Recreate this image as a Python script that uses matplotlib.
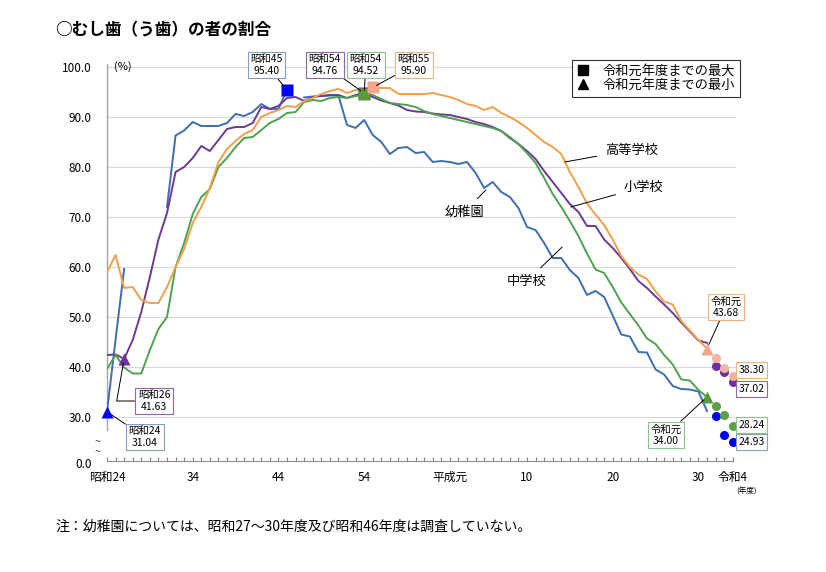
import numpy as np
import matplotlib.pyplot as plt
from matplotlib.lines import Line2D

plt.rcParams['font.family'] = ['Noto Sans CJK JP', 'DejaVu Sans']

# 昭和24 (1949) ... 令和4 (2022)
years = np.arange(1949, 2023)
nan = np.nan

# 幼稚園
kinder = [31.04, 45.5, 59.6, nan, nan, nan, nan, 72.0, 86.3, 87.3,
          89.0, 88.2, 88.2, 88.2, 88.8, 90.6, 90.2, 91.0, 92.6, 91.6,
          91.6, 95.40, nan, 93.9, 94.1, 94.2, 94.3, 94.3, 88.4, 87.8,
          89.4, 86.4, 85.0, 82.6, 83.8, 84.0, 82.8, 83.0, 81.0, 81.2,
          81.0, 80.6, 81.0, 78.8, 75.8, 77.0, 75.0, 74.0, 71.8, 68.0,
          67.4, 64.8, 61.8, 61.8, 59.4, 57.8, 54.4, 55.2, 54.0, 50.3,
          46.5, 46.1, 43.0, 42.9, 39.5, 38.5, 36.2, 35.6, 35.5, 35.1,
          31.2, 30.3, 26.5, 24.93]
# 小学校
elem = [42.4, 42.5, 41.63, 45.4, 51.0, 58.0, 65.5, 70.8, 79.0, 80.0,
        81.8, 84.2, 83.2, 85.4, 87.6, 88.0, 88.0, 88.8, 92.0, 91.6,
        92.2, 93.8, 94.0, 93.2, 94.0, 94.2, 94.4, 94.4, 93.8, 94.4,
        94.76, 94.0, 93.3, 92.8, 92.3, 91.4, 91.1, 91.0, 90.7, 90.5,
        90.4, 90.0, 89.6, 89.0, 88.6, 88.0, 87.2, 85.8, 84.6, 83.2,
        81.6, 79.2, 77.0, 74.8, 72.6, 71.0, 68.2, 68.2, 65.5, 63.8,
        61.8, 59.6, 57.2, 55.8, 54.1, 52.5, 50.8, 48.9, 47.1, 45.3,
        44.82, 40.2, 39.0, 37.02]
# 中学校
junior = [39.6, 42.4, 39.9, 38.7, 38.7, 43.4, 47.6, 50.0, 60.0, 64.8,
          70.6, 74.0, 75.6, 80.0, 81.8, 84.0, 85.8, 86.0, 87.4, 88.8,
          89.6, 90.8, 91.0, 93.0, 93.4, 93.2, 93.8, 94.0, 93.8, 94.2,
          94.52, 94.4, 93.6, 92.8, 92.6, 92.4, 92.0, 91.2, 90.6, 90.2,
          89.8, 89.4, 89.0, 88.6, 88.2, 87.8, 87.2, 86.0, 84.6, 82.8,
          80.8, 77.8, 74.6, 72.0, 69.2, 66.2, 62.7, 59.5, 58.8, 56.0,
          52.9, 50.6, 48.3, 45.7, 44.6, 42.4, 40.5, 37.5, 37.3, 35.4,
          34.00, 32.2, 30.4, 28.24]
# 高等学校
high = [59.0, 62.4, 55.8, 56.0, 53.4, 52.8, 52.8, 56.0, 60.0, 63.6,
        68.8, 72.0, 75.8, 81.0, 83.6, 85.2, 86.6, 87.4, 90.0, 90.8,
        91.4, 92.2, 92.0, 93.2, 93.8, 94.6, 95.2, 95.6, 94.8, 95.4,
        95.6, 95.90, 95.8, 95.8, 94.6, 94.6, 94.6, 94.6, 94.8, 94.4,
        94.0, 93.4, 92.6, 92.2, 91.4, 92.0, 90.8, 90.0, 89.0, 87.8,
        86.4, 85.0, 84.0, 82.6, 79.0, 76.0, 72.7, 70.5, 68.4, 65.5,
        62.2, 60.0, 58.5, 57.6, 55.1, 53.1, 52.5, 49.2, 47.3, 45.4,
        43.68, 41.7, 39.8, 38.30]

tick_years = [1949, 1959, 1969, 1979, 1989, 1998, 2008, 2018, 2022]
tick_names = ['昭和24', '34', '44', '54', '平成元', '10', '20', '30', '令和4']

series = [
    # data, line colour, marker colour, dot colour, box edge
    (kinder, '#3d6eb0', '#0000ff', '#0000ee', '#7f9fc4'),
    (elem, '#6b3a96', '#7030a0', '#7030a0', '#8a6aa8'),
    (junior, '#4ea24e', '#5b9a3c', '#5e9e48', '#8cc08c'),
    (high, '#f0a04b', '#f4a58a', '#f4b3a0', '#f0b47a'),
]

fig = plt.figure(figsize=(8.26, 5.72), dpi=100)
ax = fig.add_axes([107 / 826, 111 / 572, 660 / 826, 396.5 / 572])
ax.set_xlim(1949, 2026)
ax.set_ylim(21.2, 100.5)

ax.hlines(np.arange(30, 101, 10), 1949, 2022.4, color='#d9d9d9', lw=0.8, zorder=0)

n_line = 71  # lines run through 令和元 (2019)
for data, lc, mc, dc, ec in series:
    d = np.array(data, dtype=float)
    ax.plot(years[:n_line], d[:n_line], color=lc, lw=1.4, zorder=2)
    ax.plot(years[n_line:], d[n_line:], 'o', color=dc, ms=6.5, mec='none', zorder=4,
            clip_on=False)

# max (square) / min (triangle) up to 令和元
for data, lc, mc, dc, ec in series:
    d = np.array(data[:n_line], dtype=float)
    i_max, i_min = np.nanargmax(d), np.nanargmin(d)
    ax.plot(years[i_max], d[i_max], 's', color=mc, ms=9, mec='none', zorder=5, clip_on=False)
    ax.plot(years[i_min], d[i_min], '^', color=mc, ms=9, mec='none', zorder=5, clip_on=False)

# axes decoration
for s in ['left', 'right', 'top']:
    ax.spines[s].set_visible(False)
ax.spines['bottom'].set_bounds(1949, 2022)
ax.spines['bottom'].set_color('#8c8c8c')
ax.plot([1949, 1949], [27.4, 100.5], color='#a6a6a6', lw=1, clip_on=False, zorder=1)
ax.text(1947.9, 25.0, '~', fontsize=8, ha='center', va='center', color='#404040')
ax.text(1947.9, 22.9, '~', fontsize=8, ha='center', va='center', color='#404040')

ax.set_xticks(years)
ax.set_xticklabels([tick_names[tick_years.index(y)] if y in tick_years else '' for y in years],
                   fontsize=8.5)
ax.tick_params(axis='x', direction='in', length=3, color='#7f7f7f', pad=7)
ax.set_yticks(np.arange(30, 101, 10))
ax.set_yticklabels([f'{v:.1f}' for v in np.arange(30, 101, 10)], fontsize=8.5)
ax.tick_params(axis='y', length=0, pad=11)
ax.text(1947.25, 20.6, '0.0', fontsize=8.5, ha='right', va='center', clip_on=False)
ax.text(1949.8, 100.0, '(%)', fontsize=8, ha='left', va='center')
ax.text(2023.6, 15.0, '(年度)', fontsize=5.5, ha='center', va='center', clip_on=False)

# value boxes
def box(text, xy, xytext, ec, **kw):
    ax.annotate(text, xy=xy, xytext=xytext, ha='center', va='center', fontsize=7.5,
                linespacing=1.15, annotation_clip=False, zorder=6,
                bbox=dict(boxstyle='square,pad=0.25', fc='white', ec=ec, lw=0.8),
                arrowprops=dict(arrowstyle='-', color='black', lw=0.7, shrinkA=0, shrinkB=3, **kw))

box('昭和45\n95.40', (1970, 95.40), (1967.6, 100.4), series[0][4])
box('昭和54\n94.76', (1979, 94.76), (1974.4, 100.4), series[1][4])
box('昭和54\n94.52', (1979, 94.52), (1979.2, 100.4), series[2][4])
box('昭和55\n95.90', (1980, 95.90), (1984.8, 100.4), series[3][4])
box('昭和26\n41.63', (1951, 41.63), (1954.5, 33.2), series[1][4],
    connectionstyle='angle,angleA=0,angleB=80')
box('昭和24\n31.04', (1949, 31.04), (1953.4, 26.0), series[0][4])
box('令和元\n43.68', (2019, 43.68), (2021.2, 52.0), series[3][4])
box('令和元\n34.00', (2019, 34.00), (2014.2, 26.4), series[2][4])

for txt, y, ec in [('38.30', 39.4, series[3][4]), ('37.02', 35.6, series[1][4]),
                   ('28.24', 28.4, series[2][4]), ('24.93', 25.0, series[0][4])]:
    ax.text(2024.2, y, txt, ha='center', va='center', fontsize=7.5, zorder=6,
            bbox=dict(boxstyle='square,pad=0.25', fc='white', ec=ec, lw=0.8))

# series labels
def label(text, xy, xytext):
    ax.annotate(text, xy=xy, xytext=xytext, ha='center', va='center', fontsize=9.5,
                arrowprops=dict(arrowstyle='-', color='black', lw=0.7, shrinkA=4, shrinkB=0))

label('高等学校', (2002.4, 81.0), (2010.2, 83.4))
label('小学校', (2003.1, 72.0), (2011.6, 76.0))
label('幼稚園', (1993.2, 75.4), (1990.7, 71.0))
label('中学校', (2002.1, 64.0), (1998.0, 57.2))

handles = [Line2D([], [], marker='s', color='black', ls='none', ms=7),
           Line2D([], [], marker='^', color='black', ls='none', ms=7)]
leg = fig.legend(handles, ['令和元年度までの最大', '令和元年度までの最小'],
                 loc='upper left', bbox_to_anchor=(572 / 826, 1 - 60 / 572),
                 frameon=True, fancybox=False, edgecolor='black', fontsize=9.5,
                 handlelength=1.0, handletextpad=1.0, borderpad=0.35,
                 labelspacing=0.1, borderaxespad=0)
leg.get_frame().set_linewidth(0.8)

fig.text(55 / 826, 1 - 30 / 572, '○むし歯（う歯）の者の割合', fontsize=12,
         fontweight='bold', va='center')
fig.text(55 / 826, 1 - 527 / 572,
         '注：幼稚園については、昭和27～30年度及び昭和46年度は調査していない。',
         fontsize=10, va='center')

fig.savefig('out.png', dpi=100)
